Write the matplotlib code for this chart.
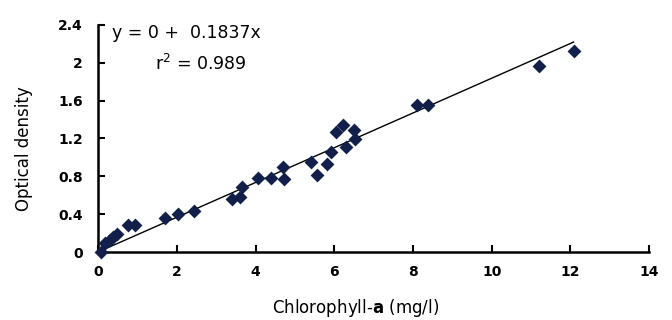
import matplotlib
matplotlib.use('Agg')
import matplotlib.pyplot as plt
import numpy as np

plt.rcParams['font.family'] = ['DejaVu Sans']
plt.rcParams['mathtext.fontset'] = 'dejavusans'

# chlorophyll-a (mg/l) vs optical density
chl = [0.07, 0.18, 0.29, 0.39, 0.49, 0.76, 0.94, 1.71, 2.02, 2.43,
       3.41, 3.61, 3.66, 4.06, 4.39, 4.69, 4.73, 5.42, 5.55, 5.81,
       5.91, 6.05, 6.22, 6.30, 6.49, 6.53, 8.11, 8.37, 11.2, 12.08]
od = [0.0, 0.09, 0.13, 0.16, 0.19, 0.285, 0.285, 0.36, 0.40, 0.43,
      0.56, 0.58, 0.69, 0.78, 0.78, 0.90, 0.77, 0.955, 0.81, 0.93,
      1.06, 1.27, 1.34, 1.11, 1.29, 1.19, 1.55, 1.55, 1.97, 2.12]
intercept = 0
slope = 0.1837
r2 = 0.989

xticks = [0, 2, 4, 6, 8, 10, 12, 14]
yticks = [0, 0.4, 0.8, 1.2, 1.6, 2, 2.4]

fig = plt.figure(figsize=(6.72, 3.2), dpi=100)
ax = fig.add_axes([0.146, 0.2125, 0.82, 0.7095])

ax.scatter(chl, od, marker='D', s=50, color='#121f4a', zorder=3,
           linewidths=0, clip_on=False)
xs = np.array([min(chl), max(chl)])
ax.plot(xs, intercept + slope * xs, color='black', lw=1.0, zorder=2)

ax.set_xlim(0, 14)
ax.set_ylim(0, 2.4)
ax.set_xticks(xticks)
ax.set_yticks(yticks)
ax.set_xticklabels([str(t) for t in xticks], fontweight='bold', fontsize=10)
ax.set_yticklabels(['%g' % t for t in yticks], fontweight='bold', fontsize=10)
ax.tick_params(direction='in', length=5, width=1.5)
ax.tick_params(axis='x', pad=9)
ax.tick_params(axis='y', pad=11)

for s in ['top', 'right']:
    ax.spines[s].set_visible(False)
for s in ['left', 'bottom']:
    ax.spines[s].set_linewidth(1.8)

ax.set_xlabel(r'Chlorophyll-$\mathbf{a}$ (mg/l)', fontsize=12)
ax.set_ylabel('Optical density', fontsize=12)
ax.xaxis.set_label_coords(0.468, -0.2)
ax.yaxis.set_label_coords(-0.118, 0.454)

ax.text(0.36, 2.32, 'y = %g +  %.4fx' % (intercept, slope), fontsize=12.5,
        va='center', ha='left')
ax.text(1.45, 1.99, r'r$^2$ = %.3f' % r2, fontsize=12.5, va='center', ha='left')

fig.savefig('out.png', dpi=100)
